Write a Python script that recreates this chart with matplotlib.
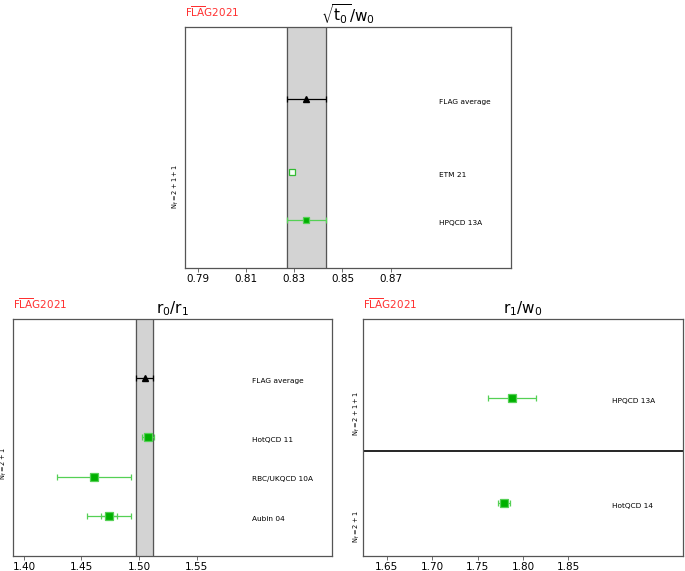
import matplotlib.pyplot as plt
import matplotlib.transforms as mtransforms

# --- данные ---
# sqrt(t0)/w0, Nf=2+1+1
t0w0_labels = ['HPQCD 13A', 'ETM 21']
t0w0_values = [0.835, 0.8293]
t0w0_errors = [0.008, 0.0007]
t0w0_filled = [True, False]
t0w0_avg = 0.835
t0w0_avg_err = 0.008

# r0/r1, Nf=2+1
r0r1_labels = ['Aubin 04', 'RBC/UKQCD 10A', 'HotQCD 11']
r0r1_values = [1.474, 1.461, 1.508]
r0r1_errors = [0.019, 0.032, 0.005]
r0r1_stat = [0.007, None, None]
r0r1_avg = 1.5049
r0r1_avg_err = 0.0074

# r1/w0, Nf=2+1 (внизу) и Nf=2+1+1 (вверху)
r1w0_labels = ['HotQCD 14', 'HPQCD 13A']
r1w0_values = [1.779, 1.788]
r1w0_errors = [0.007, 0.026]

GREEN = '#00b000'
ERRGREEN = '#55d055'
RED = '#ff3030'


def flag_logo(ax):
    ax.text(0.0, 1.035, r'$\mathsf{F\overline{LA}G}$' + '2021', transform=ax.transAxes,
            color=RED, fontsize=7.5, ha='left', va='bottom')


def setup_axes(ax, title, xlim, ylim, xticks):
    ax.set_xlim(*xlim)
    ax.set_ylim(*ylim)
    ax.set_xticks(xticks)
    ax.set_xticklabels([f'{t:.2f}' for t in xticks], fontsize=7.5)
    ax.set_yticks([])
    ax.tick_params(axis='x', length=3, width=0.6, color='#555555', pad=1.5)
    for s in ax.spines.values():
        s.set_color('#555555')
        s.set_linewidth(0.9)
    ax.set_title(title, fontsize=11, pad=4)
    flag_logo(ax)


def draw_band(ax, avg, err):
    ax.axvspan(avg - err, avg + err, color='#d3d3d3', zorder=0)
    ax.axvline(avg - err, color='#555555', lw=0.9, zorder=1)
    ax.axvline(avg + err, color='#555555', lw=0.9, zorder=1)


def draw_avg(ax, avg, err, y, xlab):
    ax.errorbar(avg, y, xerr=err, fmt='^', color='black', ms=5,
                elinewidth=0.9, capsize=2, capthick=0.9, zorder=4)
    ax.text(xlab, y - 0.06, 'FLAG average', fontsize=5.3, va='center')


def side_label(ax, y, text, dx=-0.028):
    trans = mtransforms.blended_transform_factory(ax.transAxes, ax.transData)
    ax.text(dx, y, text, transform=trans, rotation=90, fontsize=4.8,
            ha='center', va='center')


fig = plt.figure(figsize=(6.85, 5.71), dpi=100)

# --- верхняя панель ---
ax1 = fig.add_axes([0.2701, 0.5306, 0.476, 0.4221])
setup_axes(ax1, r'$\mathrm{\sqrt{t_0}/w_0}$', (0.7848, 0.9198), (0, 5),
           [0.79, 0.81, 0.83, 0.85, 0.87])
draw_band(ax1, t0w0_avg, t0w0_avg_err)
for i, (lab, v, e, f) in enumerate(zip(t0w0_labels, t0w0_values, t0w0_errors, t0w0_filled)):
    y = i + 1
    ax1.errorbar(v, y, xerr=e, fmt='s', ms=5, color=ERRGREEN, elinewidth=0.9,
                 capsize=2, capthick=0.9, mfc=GREEN if f else '#f4fff4',
                 mec=ERRGREEN if f else '#33bb33', mew=0.9, zorder=3)
    ax1.text(0.890, y - 0.06, lab, fontsize=5.3, va='center')
draw_avg(ax1, t0w0_avg, t0w0_avg_err, len(t0w0_labels) + 1.5, 0.890)
side_label(ax1, 1.7, r'$\mathrm{N_f=2+1+1}$')

# --- нижняя левая панель ---
ax2 = fig.add_axes([0.0185, 0.0265, 0.4662, 0.4148])
setup_axes(ax2, r'$\mathrm{r_0/r_1}$', (1.3902, 1.6678), (0, 6),
           [1.40, 1.45, 1.50, 1.55])
draw_band(ax2, r0r1_avg, r0r1_avg_err)
for i, (lab, v, e, st) in enumerate(zip(r0r1_labels, r0r1_values, r0r1_errors, r0r1_stat)):
    y = i + 1
    ax2.errorbar(v, y, xerr=e, fmt='s', ms=5.5, color=ERRGREEN, elinewidth=0.9,
                 capsize=2, capthick=0.9, mfc=GREEN, mec=ERRGREEN, mew=0.9, zorder=3)
    if st is not None:
        ax2.errorbar(v, y, xerr=st, fmt='none', ecolor=ERRGREEN, elinewidth=0.9,
                     capsize=2, capthick=0.9, zorder=3)
    ax2.text(1.598, y - 0.06, lab, fontsize=5.3, va='center')
draw_avg(ax2, r0r1_avg, r0r1_avg_err, len(r0r1_labels) + 1.5, 1.598)
side_label(ax2, 2.35, r'$\mathrm{N_f=2+1}$', dx=-0.028)

# --- нижняя правая панель ---
ax3 = fig.add_axes([0.5304, 0.0265, 0.4667, 0.4148])
setup_axes(ax3, r'$\mathrm{r_1/w_0}$', (1.6242, 1.9763), (0, 4.5),
           [1.65, 1.70, 1.75, 1.80, 1.85])
ax3.axhline(2, color='black', lw=1.2)
for i, (lab, v, e) in enumerate(zip(r1w0_labels, r1w0_values, r1w0_errors)):
    y = 2 * i + 1
    ax3.errorbar(v, y, xerr=e, fmt='s', ms=5.5, color=ERRGREEN, elinewidth=0.9,
                 capsize=2, capthick=0.9, mfc=GREEN, mec=ERRGREEN, mew=0.9, zorder=3)
    ax3.text(1.898, y - 0.06, lab, fontsize=5.3, va='center')
side_label(ax3, 2.7, r'$\mathrm{N_f=2+1+1}$', dx=-0.020)
side_label(ax3, 0.55, r'$\mathrm{N_f=2+1}$', dx=-0.020)

fig.savefig('out.png', dpi=100)
